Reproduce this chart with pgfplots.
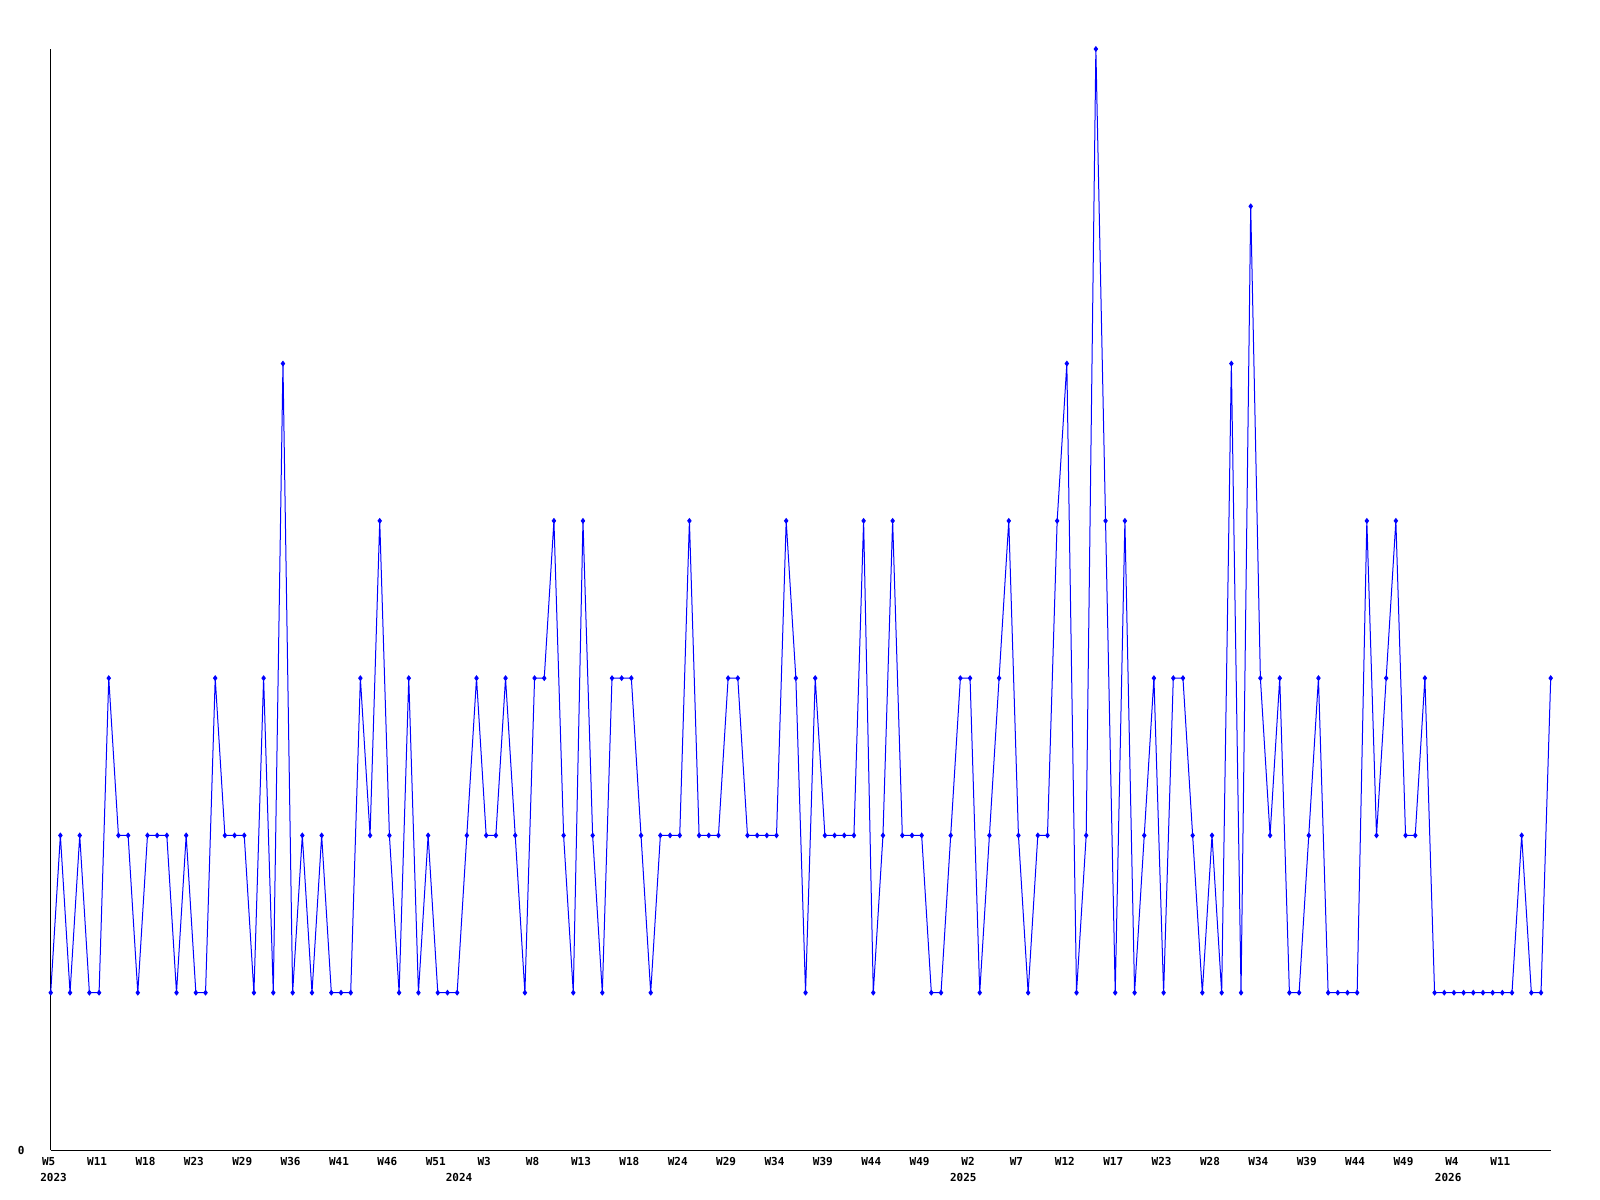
\documentclass[border=0pt]{standalone}
\usepackage{fontspec}
\setmonofont{DejaVu Sans Mono}
\usepackage{pgfplots}
\pgfplotsset{compat=1.18}
\begin{document}
\begin{tikzpicture}[font=\ttfamily\bfseries\fontsize{5.5bp}{6.5bp}\selectfont]
\useasboundingbox (-25.35bp,-25bp) rectangle (774.65bp,575bp);
\begin{axis}[
  at={(0,0)}, anchor=origin,
  scale only axis, width=750bp, height=550.5bp,
  xmin=0, xmax=155, ymin=0, ymax=7,
  axis x line=bottom, axis y line=left,
  axis line style={-, line width=0.5bp, black},
  major tick length=0pt,
  /pgf/number format/assume math mode=true,
  xtick={0,5,...,150},
  xticklabels={W5,W11,W18,W23,W29,W36,W41,W46,W51,W3,W8,W13,W18,W24,W29,W34,W39,W44,W49,W2,W7,W12,W17,W23,W28,W34,W39,W44,W49,W4,W11},
  xticklabel style={anchor=base, inner sep=0pt, yshift=-7.85bp, xshift=-1bp},
  ytick={0},
  yticklabel style={anchor=east, inner sep=0pt, xshift=-12.85bp},
  clip=false,
]
\addplot[color={rgb,255:red,0;green,0;blue,255}, line width=0.5bp, mark=diamond*, mark size=1.1bp, mark options={solid}] table[x=i,y=v] {
i v
0 1
1 2
2 1
3 2
4 1
5 1
6 3
7 2
8 2
9 1
10 2
11 2
12 2
13 1
14 2
15 1
16 1
17 3
18 2
19 2
20 2
21 1
22 3
23 1
24 5
25 1
26 2
27 1
28 2
29 1
30 1
31 1
32 3
33 2
34 4
35 2
36 1
37 3
38 1
39 2
40 1
41 1
42 1
43 2
44 3
45 2
46 2
47 3
48 2
49 1
50 3
51 3
52 4
53 2
54 1
55 4
56 2
57 1
58 3
59 3
60 3
61 2
62 1
63 2
64 2
65 2
66 4
67 2
68 2
69 2
70 3
71 3
72 2
73 2
74 2
75 2
76 4
77 3
78 1
79 3
80 2
81 2
82 2
83 2
84 4
85 1
86 2
87 4
88 2
89 2
90 2
91 1
92 1
93 2
94 3
95 3
96 1
97 2
98 3
99 4
100 2
101 1
102 2
103 2
104 4
105 5
106 1
107 2
108 7
109 4
110 1
111 4
112 1
113 2
114 3
115 1
116 3
117 3
118 2
119 1
120 2
121 1
122 5
123 1
124 6
125 3
126 2
127 3
128 1
129 1
130 2
131 3
132 1
133 1
134 1
135 1
136 4
137 2
138 3
139 4
140 2
141 2
142 3
143 1
144 1
145 1
146 1
147 1
148 1
149 1
150 1
151 1
152 2
153 1
154 1
155 3
};
\node[anchor=base, inner sep=0pt, yshift=-15.5bp] at (axis cs:0.3,0) {2023};
\node[anchor=base, inner sep=0pt, yshift=-15.5bp] at (axis cs:42.2,0) {2024};
\node[anchor=base, inner sep=0pt, yshift=-15.5bp] at (axis cs:94.3,0) {2025};
\node[anchor=base, inner sep=0pt, yshift=-15.5bp] at (axis cs:144.4,0) {2026};
\end{axis}
\end{tikzpicture}
\end{document}
